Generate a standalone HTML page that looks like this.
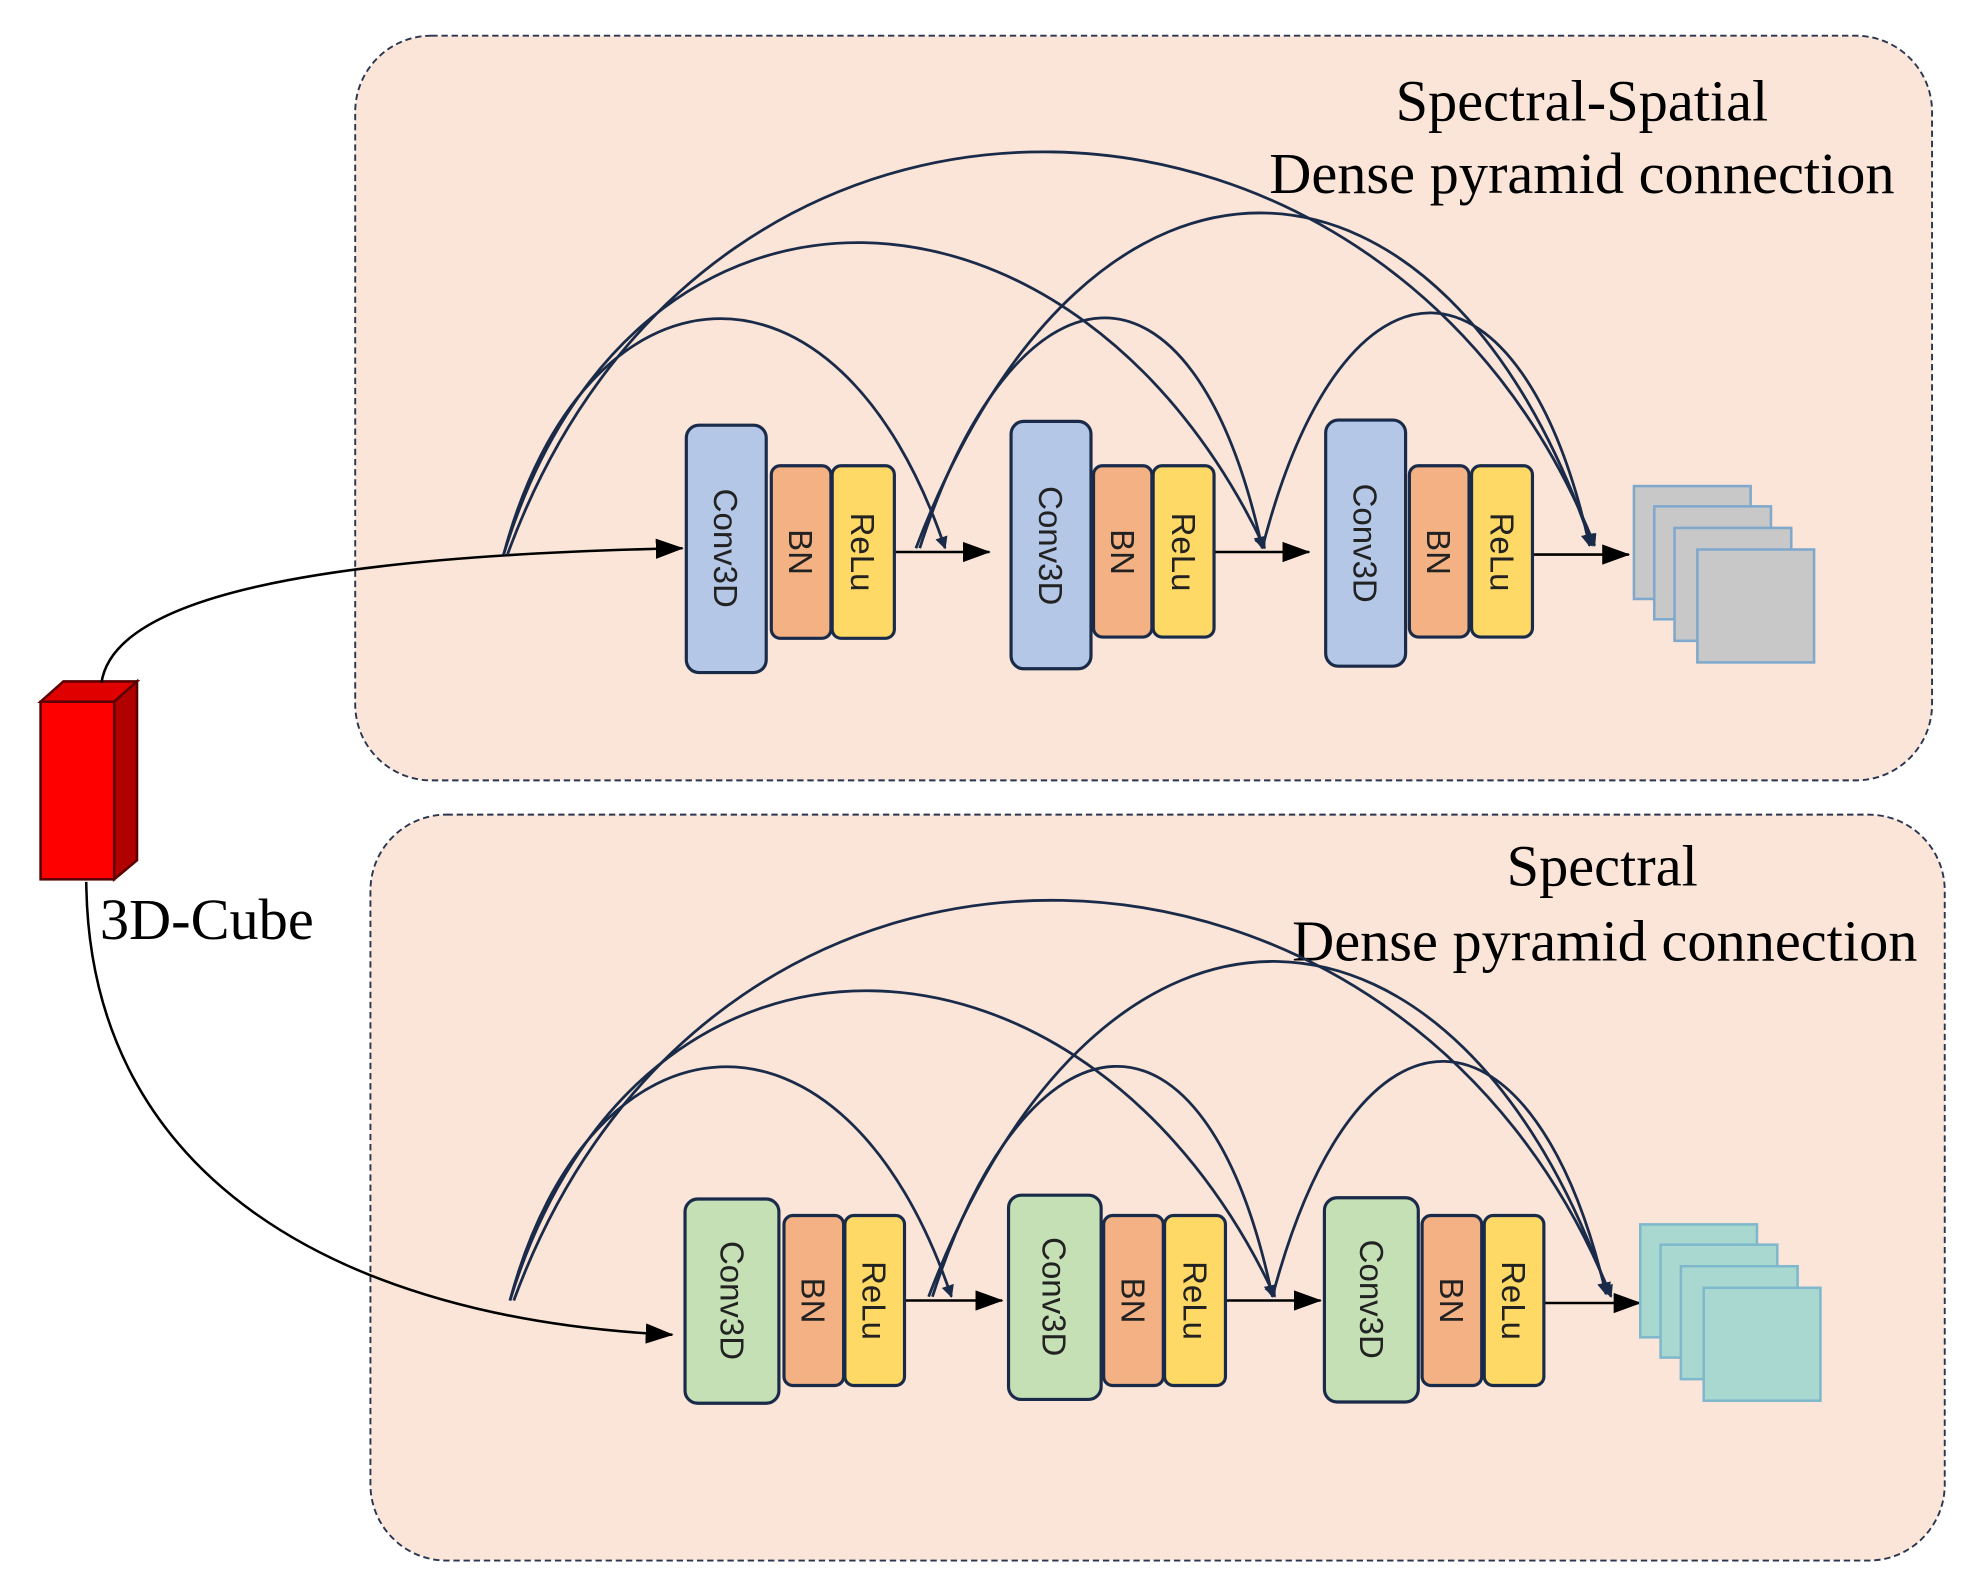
<!DOCTYPE html>
<html><head><meta charset="utf-8"><style>html,body{margin:0;padding:0;background:#fff}svg{display:block}</style></head>
<body>
<svg width="1979" height="1595" viewBox="0 0 1560 1257" xmlns="http://www.w3.org/2000/svg">
<defs>
<marker id="a" markerWidth="10" markerHeight="10" refX="9" refY="5" orient="auto" markerUnits="userSpaceOnUse"><path d="M0,0 L10,5 L0,10 Z" fill="#1a2b4a"/></marker>
<marker id="b" markerWidth="22" markerHeight="16" refX="21" refY="8" orient="auto" markerUnits="userSpaceOnUse"><path d="M0,0 L22,8 L0,16 Z" fill="#000"/></marker>
</defs>
<rect width="1560" height="1257" fill="#fff"/>
<rect x="280" y="28" width="1243" height="587" rx="60" fill="#fbe5d8" stroke="#2a3550" stroke-width="1.5" stroke-dasharray="5,3"/>
<rect x="292" y="642" width="1241" height="588" rx="60" fill="#fbe5d8" stroke="#2a3550" stroke-width="1.5" stroke-dasharray="5,3"/>
<g font-family="Liberation Serif, serif" font-size="46" fill="#000" text-anchor="middle">
<text x="1247" y="95">Spectral-Spatial</text>
<text x="1247" y="152">Dense pyramid connection</text>
<text x="1263" y="698">Spectral</text>
<text x="1265" y="757">Dense pyramid connection</text>
<text x="163" y="740">3D-Cube</text>
</g>
<polygon points="32,553 50,537 108,537 90,553" fill="#e00000" stroke="#5a0000" stroke-width="2"/>
<polygon points="90,553 108,537 108,678 90,693" fill="#b00000" stroke="#5a0000" stroke-width="2"/>
<rect x="32" y="553" width="58" height="140" fill="#ff0000" stroke="#5a0000" stroke-width="2"/>
<path d="M80,538 C90,470 250,438 538,432" fill="none" stroke="#000" stroke-width="2" marker-end="url(#b)"/>
<path d="M68,695 C70,930 270,1040 530,1052" fill="none" stroke="#000" stroke-width="2" marker-end="url(#b)"/>
<g stroke="#000" stroke-width="2" fill="none" marker-end="url(#b)">
<path d="M705,435 L780,435"/><path d="M957,435 L1032,435"/><path d="M1208,437 L1284,437"/>
<path d="M713,1025 L790,1025"/><path d="M966,1025 L1041,1025"/><path d="M1217,1027 L1293,1027"/>
</g>
<g stroke="#1a2b4a" stroke-width="2.2" fill="none" marker-end="url(#a)">
<path d="M397,437 C460,200 660,180 745,432"/>
<path d="M397,437 C500,100 850,120 997,432"/>
<path d="M400,437 C560,0 1100,30 1257,430"/>
<path d="M725,432 C800,200 940,180 995,432"/>
<path d="M722,432 C860,70 1140,90 1255,430"/>
<path d="M995,432 C1060,180 1200,190 1253,430"/>
</g>
<g stroke="#1a2b4a" stroke-width="2.2" fill="none" marker-end="url(#a)">
<path d="M402,1025 C465,790 665,770 750,1022"/>
<path d="M402,1025 C505,690 860,710 1005,1022"/>
<path d="M405,1025 C565,590 1110,620 1270,1022"/>
<path d="M735,1022 C810,790 950,770 1003,1022"/>
<path d="M732,1022 C870,660 1150,680 1268,1020"/>
<path d="M1003,1022 C1070,770 1210,780 1266,1020"/>
</g>
<g stroke="#1a2b4a" stroke-width="2.5">
<rect x="541" y="335" width="63" height="195" rx="10" fill="#b4c7e7"/>
<rect x="608" y="367" width="47" height="136" rx="7" fill="#f4b183"/>
<rect x="656" y="367" width="49" height="136" rx="7" fill="#ffd966"/>
<rect x="797" y="332" width="63" height="195" rx="10" fill="#b4c7e7"/>
<rect x="862" y="367" width="46" height="135" rx="7" fill="#f4b183"/>
<rect x="909" y="367" width="48" height="135" rx="7" fill="#ffd966"/>
<rect x="1045" y="331" width="63" height="194" rx="10" fill="#b4c7e7"/>
<rect x="1111" y="367" width="47" height="135" rx="7" fill="#f4b183"/>
<rect x="1160" y="367" width="48" height="135" rx="7" fill="#ffd966"/>
<rect x="540" y="945" width="74" height="161" rx="10" fill="#c5e0b4"/>
<rect x="618" y="958" width="47" height="134" rx="7" fill="#f4b183"/>
<rect x="666" y="958" width="47" height="134" rx="7" fill="#ffd966"/>
<rect x="795" y="942" width="73" height="161" rx="10" fill="#c5e0b4"/>
<rect x="870" y="958" width="47" height="134" rx="7" fill="#f4b183"/>
<rect x="918" y="958" width="48" height="134" rx="7" fill="#ffd966"/>
<rect x="1044" y="944" width="74" height="161" rx="10" fill="#c5e0b4"/>
<rect x="1121" y="958" width="47" height="134" rx="7" fill="#f4b183"/>
<rect x="1170" y="958" width="47" height="134" rx="7" fill="#ffd966"/>
</g>
<g font-family="Liberation Sans, sans-serif" font-size="26" fill="#222" stroke="none" text-anchor="middle" dominant-baseline="central">
<text transform="translate(572,432) rotate(90)">Conv3D</text>
<text transform="translate(631,435) rotate(90)">BN</text>
<text transform="translate(680,435) rotate(90)">ReLu</text>
<text transform="translate(828,430) rotate(90)">Conv3D</text>
<text transform="translate(885,435) rotate(90)">BN</text>
<text transform="translate(933,435) rotate(90)">ReLu</text>
<text transform="translate(1076,428) rotate(90)">Conv3D</text>
<text transform="translate(1134,435) rotate(90)">BN</text>
<text transform="translate(1184,435) rotate(90)">ReLu</text>
<text transform="translate(577,1025) rotate(90)">Conv3D</text>
<text transform="translate(641,1025) rotate(90)">BN</text>
<text transform="translate(689,1025) rotate(90)">ReLu</text>
<text transform="translate(831,1022) rotate(90)">Conv3D</text>
<text transform="translate(893,1025) rotate(90)">BN</text>
<text transform="translate(942,1025) rotate(90)">ReLu</text>
<text transform="translate(1081,1024) rotate(90)">Conv3D</text>
<text transform="translate(1144,1025) rotate(90)">BN</text>
<text transform="translate(1193,1025) rotate(90)">ReLu</text>
</g>
<g stroke="#7fa8cc" stroke-width="2" fill="#c8c8c8">
<rect x="1288" y="383" width="92" height="89"/>
<rect x="1304" y="399" width="92" height="89"/>
<rect x="1320" y="416" width="92" height="89"/>
<rect x="1338" y="433" width="92" height="89"/>
</g>
<g stroke="#7fb8cc" stroke-width="2" fill="#a9d8d0">
<rect x="1293" y="965" width="92" height="89"/>
<rect x="1309" y="981" width="92" height="89"/>
<rect x="1325" y="998" width="92" height="89"/>
<rect x="1343" y="1015" width="92" height="89"/>
</g>
</svg>
</body></html>
